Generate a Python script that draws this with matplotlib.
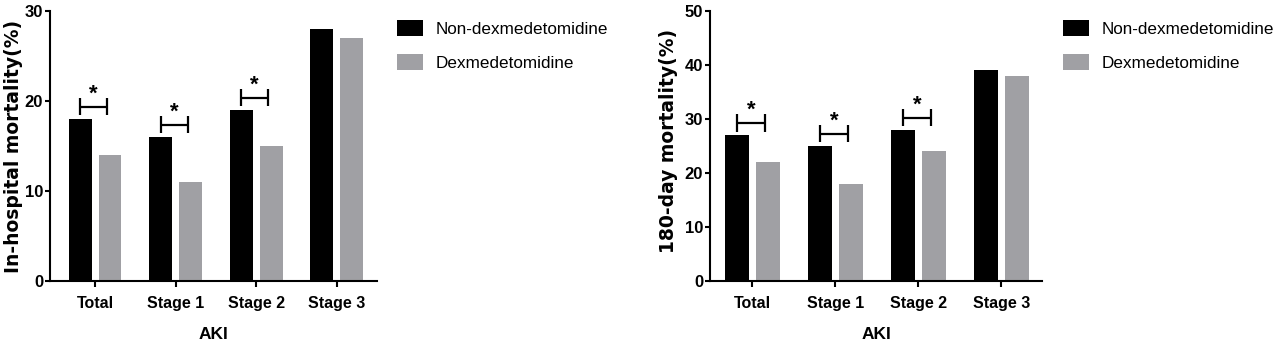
import matplotlib
matplotlib.use("Agg")
import matplotlib.pyplot as plt
import numpy as np
from matplotlib.patches import Patch

plt.rcParams['font.family'] = ['Liberation Sans', 'DejaVu Sans']

categories = ["Total", "Stage 1", "Stage 2", "Stage 3"]
series_names = ["Non-dexmedetomidine", "Dexmedetomidine"]

inhosp_non = [18, 16, 19, 28]
inhosp_dex = [14, 11, 15, 27]
day180_non = [27, 25, 28, 39]
day180_dex = [22, 18, 24, 38]

sig_inhosp = [True, True, True, False]
sig_180 = [True, True, True, False]

inhosp_ticks = [0, 10, 20, 30]
day180_ticks = [0, 10, 20, 30, 40, 50]

BLACK = "#000000"
GREY = "#a0a0a4"

fig = plt.figure(figsize=(12.8, 3.47), dpi=100)

def draw(ax, non, dex, sig, ticks, ylabel, xlim, lblx, lbly):
    x = np.arange(len(categories))
    w = 0.285
    off = 0.185
    ax.bar(x - off, non, w, color=BLACK)
    ax.bar(x + off, dex, w, color=GREY)
    ymax = ticks[-1]
    ax.set_ylim(0, ymax)
    ax.set_xlim(*xlim)
    ax.set_yticks(ticks)
    ax.set_xticks(x)
    ax.set_xticklabels(categories, fontsize=11.5, fontweight='bold')
    for lab in ax.get_yticklabels():
        lab.set_fontweight('bold')
        lab.set_fontsize(12)
    ax.spines['top'].set_visible(False)
    ax.spines['right'].set_visible(False)
    for s in ['left', 'bottom']:
        ax.spines[s].set_linewidth(1.5)
    ax.tick_params(axis='y', length=3.5, width=1.5, pad=1.5)
    ax.tick_params(axis='x', length=4.5, width=1.5, pad=6.5)
    ax.set_xlabel("AKI", fontsize=12.5, fontweight='bold', labelpad=11)
    ax.set_ylabel(ylabel, fontsize=13.5, fontweight='bold', family='DejaVu Sans')
    ax.yaxis.set_label_coords(lblx, lbly)
    for i, s in enumerate(sig):
        if not s:
            continue
        x0 = x[i] - off
        x1 = x[i] + 0.15
        yb = non[i] + 0.045 * ymax
        hh = 0.032 * ymax
        ax.plot([x0, x1], [yb, yb], color='black', lw=1.6, solid_capstyle='butt')
        ax.plot([x0, x0], [yb - hh, yb + hh], color='black', lw=1.6, solid_capstyle='butt')
        ax.plot([x1, x1], [yb - hh, yb + hh], color='black', lw=1.6, solid_capstyle='butt')
        ax.text((x0 + x1) / 2, yb + 0.008 * ymax, "*", ha='center', va='bottom',
                fontsize=16, fontweight='bold')

ax1 = fig.add_axes([50/1280, 1 - 281/347, 327/1280, 270/347])
draw(ax1, inhosp_non, inhosp_dex, sig_inhosp, inhosp_ticks,
     "In-hospital mortality(%)", (-0.56, 3.50), -0.083, 0.50)
ax2 = fig.add_axes([710/1280, 1 - 281/347, 332/1280, 270/347])
draw(ax2, day180_non, day180_dex, sig_180, day180_ticks,
     "180-day mortality(%)", (-0.51, 3.49), -0.096, 0.52)

handles = [Patch(facecolor=BLACK, edgecolor='none'), Patch(facecolor=GREY, edgecolor='none')]
for xpos in [397/1280, 1063/1280]:
    fig.legend(handles, series_names, loc='upper left',
               bbox_to_anchor=(xpos, 1 - 20/347), frameon=False, fontsize=12.3,
               borderpad=0, borderaxespad=0, handlelength=1.55, handleheight=1.05,
               handletextpad=0.7, labelspacing=1.0)

fig.savefig("out.png", dpi=100)
